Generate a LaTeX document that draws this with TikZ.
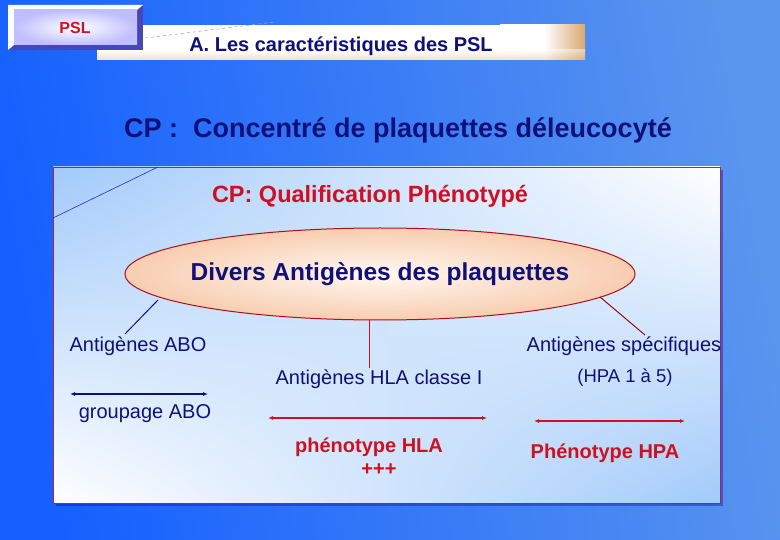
\documentclass[tikz,border=0pt]{standalone}
\usepackage{fontspec}
\setmainfont{Liberation Sans}
\usetikzlibrary{shapes.geometric,arrows.meta,shadings}
\definecolor{navy}{HTML}{10107A}
\definecolor{redt}{HTML}{D01020}
\definecolor{bgL}{HTML}{1560FF}
\definecolor{bgR}{HTML}{5A95EE}
\definecolor{boxblue}{HTML}{A2CAFA}
\definecolor{boxedge}{HTML}{B02050}
\definecolor{tan}{HTML}{D8A870}
\definecolor{peach}{HTML}{F8CDB0}
\pgfdeclarehorizontalshading{barshade}{100bp}{color(0bp)=(white); color(51bp)=(white); color(75bp)=(tan); color(100bp)=(tan)}
\tikzset{
  plain/.style={text=navy,font=\fontsize{20}{23}\selectfont,inner sep=0pt},
  redbold/.style={text=redt,font=\fontsize{20}{23}\selectfont\bfseries,inner sep=0pt},
  dbl/.style={{Latex[length=5pt,width=4pt]}-{Latex[length=5pt,width=4pt]},line width=1.6pt},
}
\begin{document}
\begin{tikzpicture}[x=1pt,y=-1pt]
\useasboundingbox (0,0) rectangle (780,540);
% background
\shade[left color=bgL,right color=bgR,shading angle=100] (0,0) rectangle (780,540);
% header bar
\fill[white] (97,25) rectangle (585,60);
\shade[shading=barshade] (500,25) rectangle (585,60);
\shade[top color=white,bottom color=tan!80!white,opacity=0.45] (97,50) rectangle (585,60);
\draw[gray!70,dashed,line width=0.6pt] (145,38) -- (275,22);
% PSL bevel box
\fill[blue!45!gray] (8,5) -- (143,5) -- (143,50) -- (8,50) -- cycle;
\fill[white] (8,5) -- (143,5) -- (137,10) -- (14,10) -- (14,45) -- (8,50) -- cycle;
\shade[inner color=white,outer color=blue!25!white] (14,10) rectangle (137,45);
\node[text=redt,font=\fontsize{16}{18}\selectfont\bfseries,inner sep=0pt] (psl) at (75,28) {PSL};
\node[text=navy,font=\fontsize{20}{23}\selectfont\bfseries,inner sep=0pt] (hdr) at (341,46) {A. Les caractéristiques des PSL};
% main title
\node[text=navy,font=\fontsize{27}{30}\selectfont\bfseries,inner sep=0pt] (title) at (398,130) {CP :\ \ Concentré de plaquettes déleucocyté};
% box
\fill[blue!60!black,opacity=0.35] (56,170) rectangle (723,506);
\shade[upper left=boxblue,upper right=white,lower left=white,lower right=boxblue] (53,167) rectangle (720,503);
\draw[boxedge,line width=0.8pt] (53,167) rectangle (720,503);
\coordinate (d1) at (53,218); \coordinate (d2) at (158,167);
\draw[blue!70!gray,line width=0.6pt] (d1) -- (d2);
\node[text=redt,font=\fontsize{23.5}{26}\selectfont\bfseries,inner sep=0pt] (qual) at (370,196) {CP: Qualification Phénotypé};
% ellipse
\node[ellipse,draw=redt!85!black,line width=1pt,minimum width=510pt,minimum height=92pt,inner sep=0pt,
      inner color=white!95!orange,outer color=peach] (ell) at (380,274) {};
\node[text=navy,font=\fontsize{24.5}{27}\selectfont\bfseries,inner sep=0pt] (elltext) at (ell.center) {Divers Antigènes des plaquettes};
% labels
\node[plain] (abo) at (138,346) {Antigènes ABO};
\node[plain] (spec) at (624,346) {Antigènes spécifiques};
\node[plain] (hla) at (379,379) {Antigènes HLA classe I};
\node[plain,font=\fontsize{18.5}{21}\selectfont] (hpa) at (625,378) {(HPA 1 à 5)};
\node[plain] (grp) at (145,414) {groupage ABO};
\node[redbold] (phla) at (369,447) {phénotype HLA};
\node[redbold] (plus) at (379,470) {+++};
\node[redbold] (phpa) at (605,453) {Phénotype HPA};
% connectors
\coordinate (eL) at (158,300); \coordinate (tL) at (125,334);
\coordinate (eM) at (369,320); \coordinate (tM) at (369,368);
\coordinate (eR) at (600,297); \coordinate (tR) at (645,335);
\draw[navy,line width=1pt] (eL) -- (tL);
\draw[redt,line width=0.8pt] (eM) -- (tM);
\draw[redt!70!black,line width=1pt] (eR) -- (tR);
% arrows
\coordinate (a1) at (70,394); \coordinate (a2) at (208,394);
\coordinate (b1) at (268,418); \coordinate (b2) at (487,418);
\coordinate (c1) at (534,421); \coordinate (c2) at (685,421);
\draw[dbl,navy] (a1) -- (a2);
\draw[dbl,redt] (b1) -- (b2);
\draw[dbl,redt] (c1) -- (c2);
\end{tikzpicture}
\end{document}
